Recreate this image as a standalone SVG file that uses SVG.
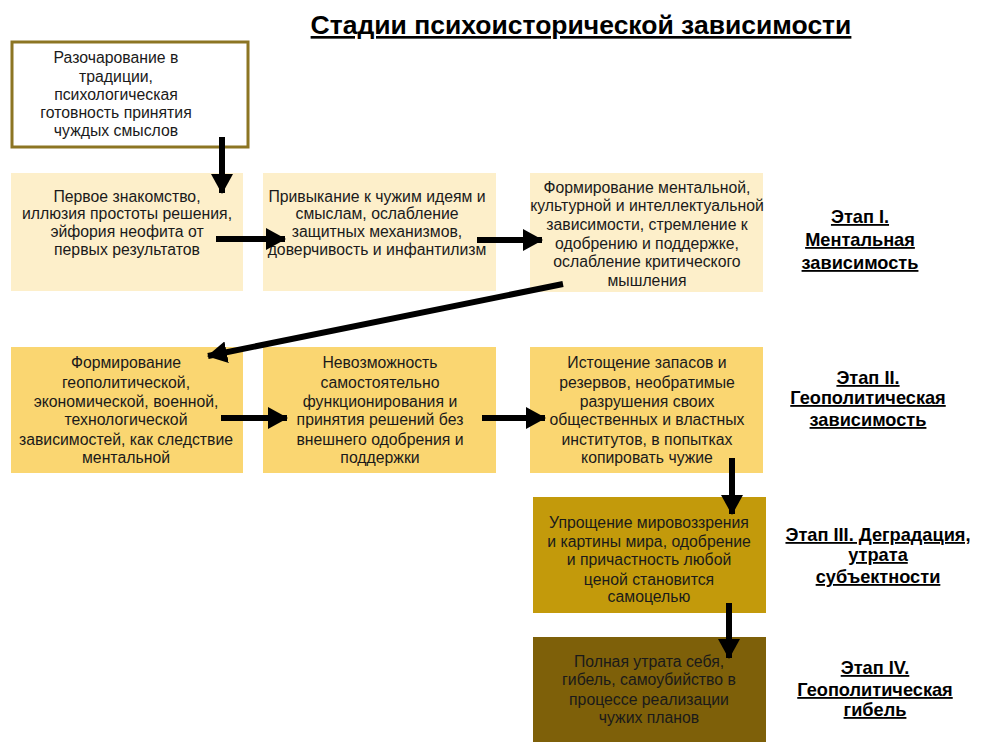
<svg xmlns="http://www.w3.org/2000/svg" width="991" height="753" viewBox="0 0 991 753">
<style>
text{font-family:"Liberation Sans",Arial,sans-serif;fill:#1a1a1a;text-anchor:middle}
.t{font-size:15.8px}
.s{font-size:18.2px;font-weight:bold;text-decoration:underline;fill:#000}
.title{font-size:26.5px;font-weight:bold;text-decoration:underline;fill:#000}
.r1{fill:#FDEFCA}
.r2{fill:#FAD671}
.r3{fill:#C39A0B}
.r4{fill:#7E6009}
.c{stroke:#000;stroke-width:6;fill:none;marker-end:url(#ah)}
</style>
<defs>
<marker id="ah" markerUnits="userSpaceOnUse" markerWidth="20" markerHeight="22" refX="19" refY="11" orient="auto">
<path d="M0,0 L20,11 L0,22 z" fill="#000"/>
</marker>
</defs>
<rect width="991" height="753" fill="#fff"/>
<text class="title" x="581" y="34">Стадии психоисторической зависимости</text>

<g id="n0">
<rect x="12" y="42" width="236" height="105" fill="#fff" stroke="#8C7523" stroke-width="3"/>
<text class="t" x="116" y="63">Разочарование в</text>
<text class="t" x="116" y="82">традиции,</text>
<text class="t" x="116" y="100">психологическая</text>
<text class="t" x="116" y="118">готовность принятия</text>
<text class="t" x="116" y="136">чуждых смыслов</text>
</g>

<g id="n1">
<rect class="r1" x="11" y="173" width="232" height="118"/>
<text class="t" x="127" y="202">Первое знакомство,</text>
<text class="t" x="127" y="219">иллюзия простоты решения,</text>
<text class="t" x="127" y="237">эйфория неофита от</text>
<text class="t" x="127" y="255">первых результатов</text>
</g>

<g id="n2">
<rect class="r1" x="263" y="173" width="233" height="118"/>
<text class="t" x="377" y="202">Привыкание к чужим идеям и</text>
<text class="t" x="377" y="219">смыслам, ослабление</text>
<text class="t" x="377" y="237">защитных механизмов,</text>
<text class="t" x="377" y="255">доверчивость и инфантилизм</text>
</g>

<g id="n3">
<rect class="r1" x="530" y="173" width="233" height="119"/>
<text class="t" x="647" y="193">Формирование ментальной,</text>
<text class="t" x="647" y="211">культурной и интеллектуальной</text>
<text class="t" x="647" y="230">зависимости, стремление к</text>
<text class="t" x="647" y="249">одобрению и поддержке,</text>
<text class="t" x="647" y="267">ослабление критического</text>
<text class="t" x="647" y="286">мышления</text>
</g>

<g id="s1">
<text class="s" x="860" y="223">Этап I.</text>
<text class="s" x="860" y="246">Ментальная</text>
<text class="s" x="860" y="269">зависимость</text>
</g>

<g id="n4">
<rect class="r2" x="11" y="347" width="232" height="126"/>
<text class="t" x="126" y="368">Формирование</text>
<text class="t" x="126" y="388">геополитической,</text>
<text class="t" x="126" y="407">экономической, военной,</text>
<text class="t" x="126" y="425">технологической</text>
<text class="t" x="126" y="445">зависимостей, как следствие</text>
<text class="t" x="126" y="463">ментальной</text>
</g>

<g id="n5">
<rect class="r2" x="263" y="347" width="233" height="126"/>
<text class="t" x="380" y="368">Невозможность</text>
<text class="t" x="380" y="388">самостоятельно</text>
<text class="t" x="380" y="407">функционирования и</text>
<text class="t" x="380" y="425">принятия решений без</text>
<text class="t" x="380" y="445">внешнего одобрения и</text>
<text class="t" x="380" y="463">поддержки</text>
</g>

<g id="n6">
<rect class="r2" x="530" y="347" width="233" height="126"/>
<text class="t" x="647" y="368">Истощение запасов и</text>
<text class="t" x="647" y="388">резервов, необратимые</text>
<text class="t" x="647" y="407">разрушения своих</text>
<text class="t" x="647" y="425">общественных и властных</text>
<text class="t" x="647" y="445">институтов, в попытках</text>
<text class="t" x="647" y="463">копировать чужие</text>
</g>

<g id="s2">
<text class="s" x="868" y="384">Этап II.</text>
<text class="s" x="868" y="404">Геополитическая</text>
<text class="s" x="868" y="426">зависимость</text>
</g>

<g id="n7">
<rect class="r3" x="533" y="497" width="233" height="116"/>
<text class="t" x="649" y="528">Упрощение мировоззрения</text>
<text class="t" x="649" y="547">и картины мира, одобрение</text>
<text class="t" x="649" y="565">и причастность любой</text>
<text class="t" x="649" y="585">ценой становится</text>
<text class="t" x="649" y="602">самоцелью</text>
</g>

<g id="s3">
<text class="s" x="878" y="541">Этап III. Деградация,</text>
<text class="s" x="878" y="561">утрата</text>
<text class="s" x="878" y="583">субъектности</text>
</g>

<g id="n8">
<rect class="r4" x="533" y="637" width="233" height="105"/>
<text class="t" x="649" y="667">Полная утрата себя,</text>
<text class="t" x="649" y="685">гибель, самоубийство в</text>
<text class="t" x="649" y="705">процессе реализации</text>
<text class="t" x="649" y="723">чужих планов</text>
</g>

<g id="s4">
<text class="s" x="875" y="674">Этап IV.</text>
<text class="s" x="875" y="696">Геополитическая</text>
<text class="s" x="875" y="716">гибель</text>
</g>

<g id="connectors">
<line class="c" x1="222" y1="137" x2="222" y2="193"/>
<line class="c" x1="216" y1="239" x2="285" y2="239"/>
<line class="c" x1="477" y1="240" x2="542" y2="240"/>
<line class="c" x1="563" y1="284" x2="208" y2="356"/>
<line class="c" x1="221" y1="418" x2="287" y2="418"/>
<line class="c" x1="482" y1="418" x2="545" y2="418"/>
<line class="c" x1="732" y1="458" x2="732" y2="514"/>
<line class="c" x1="729" y1="603" x2="729" y2="658"/>
</g>
</svg>
